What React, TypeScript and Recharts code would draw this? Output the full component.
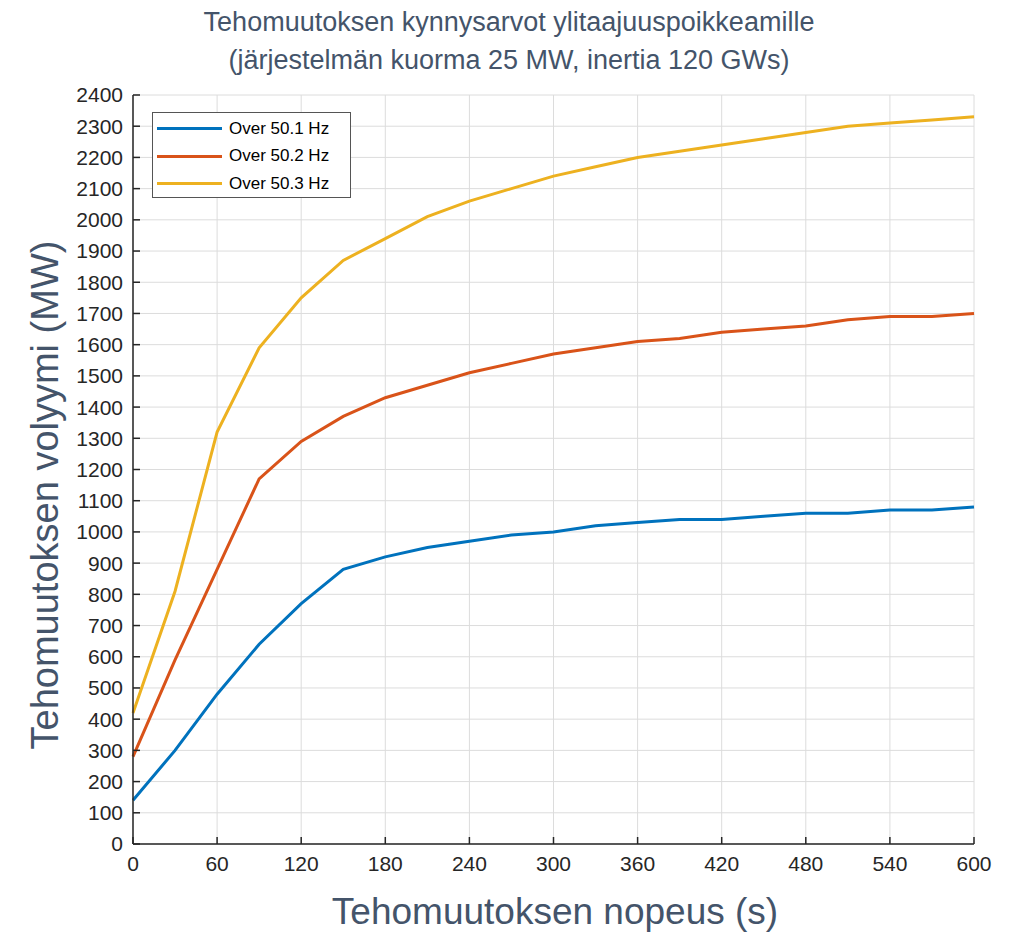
import { LineChart, Line, XAxis, YAxis, CartesianGrid } from 'recharts';

// Tehomuutoksen nopeus (s)
const rampTimes = [0, 30, 60, 90, 120, 150, 180, 210, 240, 270, 300, 330, 360, 390, 420, 450, 480, 510, 540, 570, 600];

// Tehomuutoksen volyymi (MW) per frequency limit
const over501 = [140, 300, 480, 640, 770, 880, 920, 950, 970, 990, 1000, 1020, 1030, 1040, 1040, 1050, 1060, 1060, 1070, 1070, 1080];
const over502 = [280, 590, 880, 1170, 1290, 1370, 1430, 1470, 1510, 1540, 1570, 1590, 1610, 1620, 1640, 1650, 1660, 1680, 1690, 1690, 1700];
const over503 = [420, 810, 1320, 1590, 1750, 1870, 1940, 2010, 2060, 2100, 2140, 2170, 2200, 2220, 2240, 2260, 2280, 2300, 2310, 2320, 2330];

const xTicks = [0, 60, 120, 180, 240, 300, 360, 420, 480, 540, 600];
const yTicks = [0, 100, 200, 300, 400, 500, 600, 700, 800, 900, 1000, 1100, 1200, 1300, 1400, 1500, 1600, 1700, 1800, 1900, 2000, 2100, 2200, 2300, 2400];

const seriesNames = ['Over 50.1 Hz', 'Over 50.2 Hz', 'Over 50.3 Hz'];
const seriesColors = ['#0072BD', '#D95319', '#EDB120'];

const data = rampTimes.map((t, i) => ({
  t,
  s1: over501[i],
  s2: over502[i],
  s3: over503[i],
}));

const FONT = '"Liberation Sans", Arial, sans-serif';
const LABEL_COLOR = '#44546A';
const TICK_COLOR = '#262626';
const AXIS_COLOR = '#262626';

const tickStyle = { fontSize: 21, fill: TICK_COLOR, fontFamily: FONT };

function LegendBox() {
  return (
    <div
      style={{
        position: 'absolute',
        left: 152,
        top: 112,
        width: 199,
        height: 86,
        boxSizing: 'border-box',
        border: '1.5px solid #555',
        background: '#fff',
        padding: '2px 0 0 4px',
        fontFamily: FONT,
        fontSize: 17,
        color: '#000',
      }}
    >
      {seriesNames.map((name, i) => (
        <div key={name} style={{ display: 'flex', alignItems: 'center', height: 27.5 }}>
          <span
            style={{
              display: 'inline-block',
              width: 65,
              height: 3,
              background: seriesColors[i],
              marginRight: 7,
            }}
          />
          {name}
        </div>
      ))}
    </div>
  );
}

export default function App() {
  return (
    <div
      style={{
        position: 'absolute',
        left: 0,
        top: 0,
        width: 1018,
        height: 933,
        background: '#fff',
        fontFamily: FONT,
      }}
    >
      <div
        style={{
          position: 'absolute',
          left: 0,
          top: 3,
          width: 1018,
          textAlign: 'center',
          color: LABEL_COLOR,
          fontSize: 27,
          lineHeight: '38px',
        }}
      >
        Tehomuutoksen kynnysarvot ylitaajuuspoikkeamille
        <br />
        (järjestelmän kuorma 25 MW, inertia 120 GWs)
      </div>

      <div style={{ position: 'absolute', left: 0, top: 0 }}>
        <LineChart
          width={1018}
          height={933}
          data={data}
          margin={{ top: 95, right: 44, bottom: 59, left: 73 }}
        >
          <CartesianGrid stroke="#dcdcdc" strokeWidth={1} xAxisId="bottom" yAxisId="left" />
          <XAxis
            xAxisId="bottom"
            dataKey="t"
            type="number"
            domain={[0, 600]}
            ticks={xTicks}
            interval={0}
            height={30}
            tick={tickStyle}
            tickSize={-7}
            tickMargin={19}
            stroke={AXIS_COLOR}
            strokeWidth={1.5}
          />
          <XAxis
            xAxisId="top"
            orientation="top"
            dataKey="t"
            type="number"
            domain={[0, 600]}
            ticks={xTicks}
            interval={0}
            height={0}
            tick={false}
            tickSize={-7}
            stroke={AXIS_COLOR}
            strokeWidth={1.5}
          />
          <YAxis
            yAxisId="left"
            type="number"
            domain={[0, 2400]}
            ticks={yTicks}
            interval={0}
            width={60}
            tick={tickStyle}
            tickSize={-7}
            tickMargin={17}
            stroke={AXIS_COLOR}
            strokeWidth={1.5}
          />
          <YAxis
            yAxisId="right"
            orientation="right"
            type="number"
            domain={[0, 2400]}
            ticks={yTicks}
            interval={0}
            width={0}
            tick={false}
            tickSize={-7}
            stroke={AXIS_COLOR}
            strokeWidth={1.5}
          />
          {['s1', 's2', 's3'].map((key, i) => (
            <Line
              key={key}
              xAxisId="bottom"
              yAxisId="left"
              dataKey={key}
              name={seriesNames[i]}
              type="linear"
              stroke={seriesColors[i]}
              strokeWidth={3}
              dot={false}
              activeDot={false}
              isAnimationActive={false}
            />
          ))}
        </LineChart>
      </div>

      <LegendBox />

      <div
        style={{
          position: 'absolute',
          left: 45,
          top: 495,
          transform: 'translate(-50%, -50%) rotate(-90deg)',
          whiteSpace: 'nowrap',
          color: LABEL_COLOR,
          fontSize: 38,
        }}
      >
        Tehomuutoksen volyymi (MW)
      </div>

      <div
        style={{
          position: 'absolute',
          left: 0,
          top: 889,
          width: 1110,
          textAlign: 'center',
          color: LABEL_COLOR,
          fontSize: 37,
          lineHeight: '46px',
        }}
      >
        Tehomuutoksen nopeus (s)
      </div>
    </div>
  );
}
